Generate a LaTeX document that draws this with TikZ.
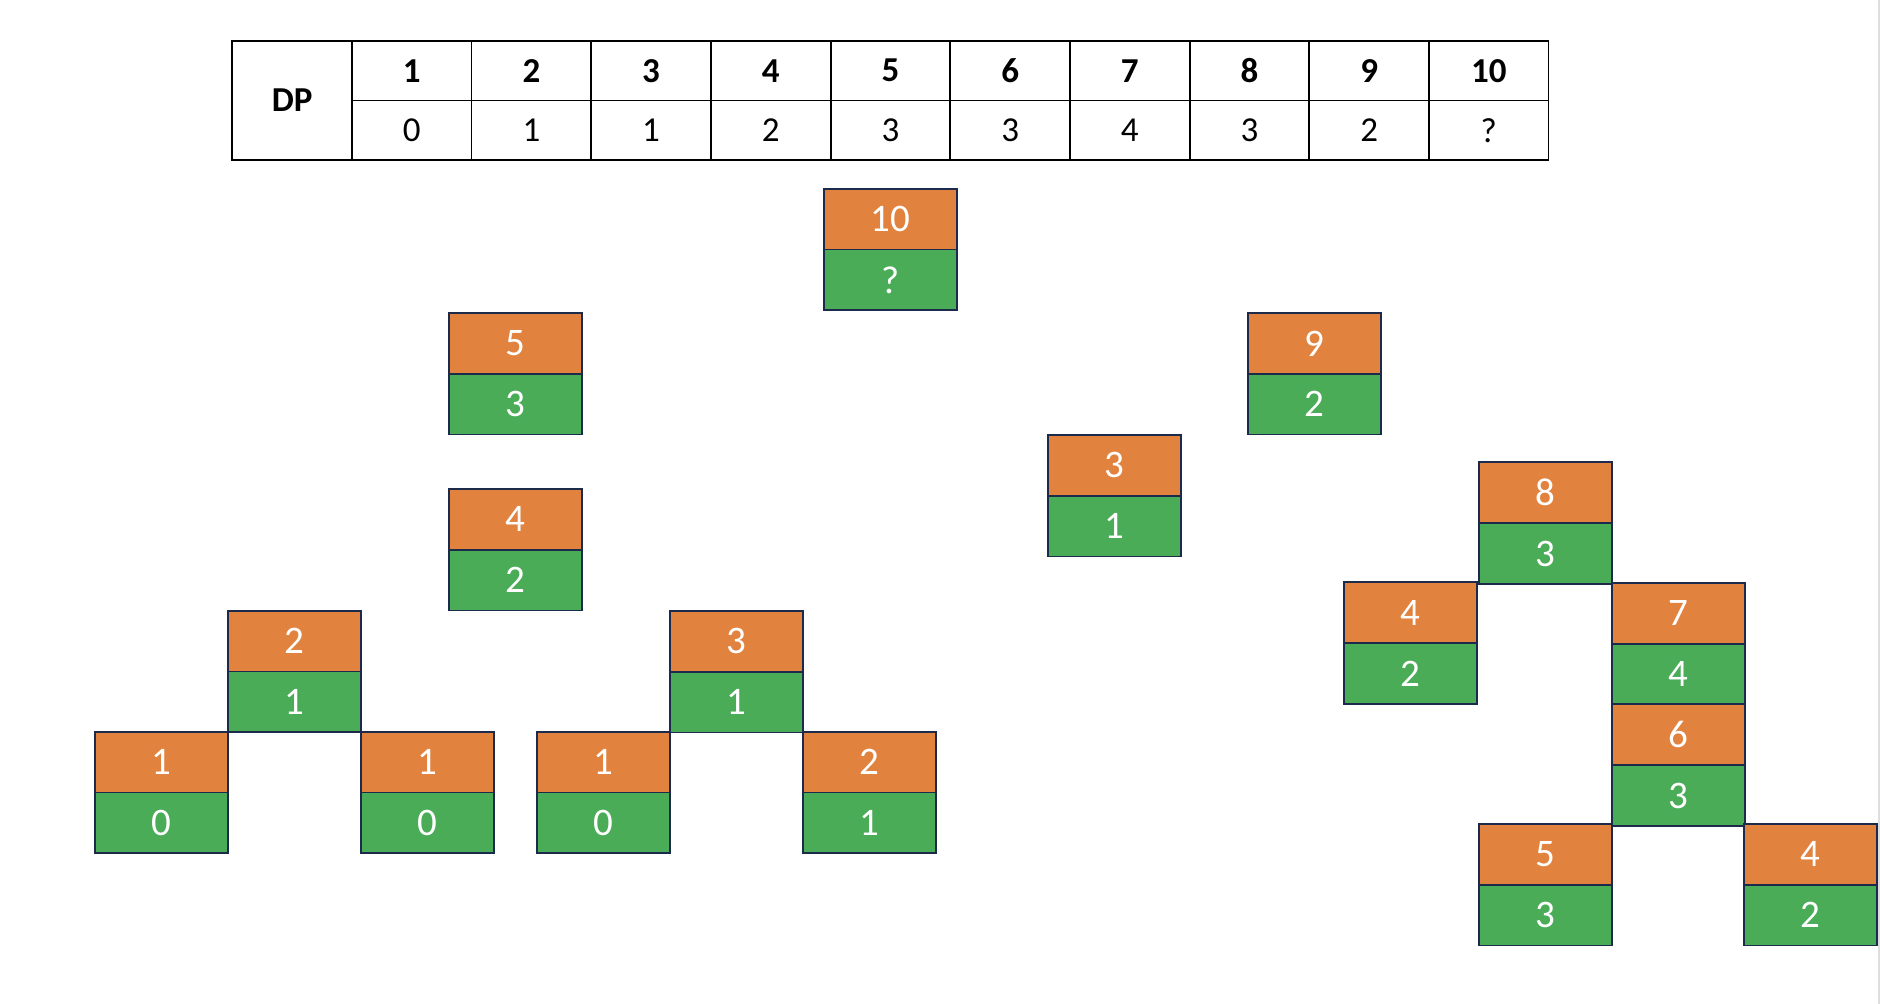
\documentclass[tikz,border=0pt]{standalone}
\usepackage{fontspec}
\setmainfont{Carlito}
\usetikzlibrary{positioning}
\definecolor{idxorange}{HTML}{E1833F}
\definecolor{valgreen}{HTML}{4AAC57}
\definecolor{boxline}{HTML}{1C2B4B}

\begin{document}
\begin{tikzpicture}[
  x=0.5pt,y=-0.5pt,
  cell/.style={draw=black,line width=0.85pt,minimum width=59.8pt,minimum height=29.75pt,inner sep=0pt,outer sep=0pt,font=\fontsize{17.5}{19}\selectfont},
  head/.style={cell,font=\fontsize{17.5}{19}\selectfont\bfseries},
  idx/.style={draw=boxline,line width=0.85pt,fill=idxorange,text=white,minimum width=66.5pt,minimum height=30.4pt,inner sep=0pt,outer sep=0pt,font=\fontsize{19.5}{22}\selectfont},
  val/.style={idx,fill=valgreen}
]
\useasboundingbox (0,0) rectangle (1880,1004);
\draw[black!13,line width=0.6pt] (1879,0) -- (1879,1004);

% DP table
\node[head,minimum height=59.5pt] (dp) at (292.1,100.4) {DP};
\foreach \i/\v in {1/0,2/1,3/1,4/2,5/3,6/3,7/4,8/3,9/2,10/?}{
  \node[head] (h\i) at ({292.1+119.67*\i},70.7) {\i};
  \node[cell] (v\i) at ({292.1+119.67*\i},130.2) {\v};
}

% recursion boxes: index on top, value below
\foreach \n/\x/\y/\i/\v in {
  a/823.7/188.7/10/?, b/449/313/5/3, c/1248/313/9/2,
  d/449/489/4/2, e/1047.7/435/3/1, f/1479/462.3/8/3,
  g/227.7/610.7/2/1, h/670/611/3/1, k/1344/582.3/4/2,
  l/1612/583/7/4, m/1612/704.3/6/3,
  n/95/731.7/1/0, o/361/731.7/1/0, p/536.7/731.7/1/0, q/802.7/731.7/2/1,
  r/1478.7/824/5/3, s/1744/824/4/2}{
  \node[idx,anchor=north west] (i\n) at (\x,\y) {\i};
  \node[val,below=0pt of i\n] (v\n) {\v};
}
\end{tikzpicture}
\end{document}
